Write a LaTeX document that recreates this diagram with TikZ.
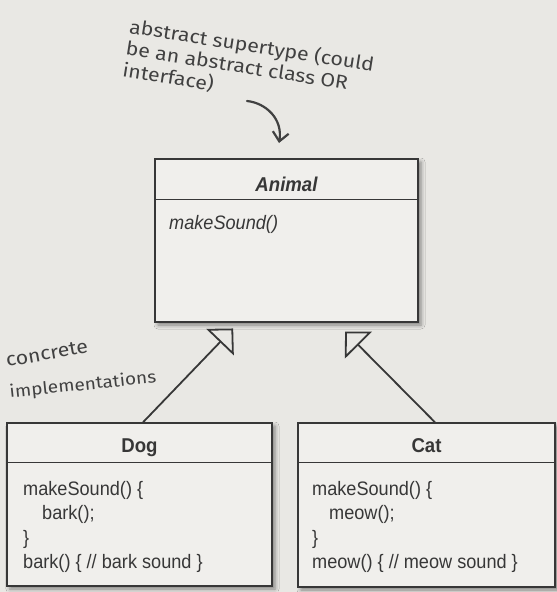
\documentclass[tikz,border=0pt]{standalone}
\usepackage{fontspec}
\setmainfont{Liberation Sans}
\newfontfamily\bodyfont[FakeStretch=0.93]{Liberation Sans}
\newfontfamily\handfont[FakeStretch=1.12]{Fira Sans}
\usetikzlibrary{arrows.meta,shadows.blur}
\definecolor{paper}{RGB}{233,232,228}
\definecolor{boxfill}{RGB}{240,239,236}
\definecolor{ink}{RGB}{55,55,55}
\definecolor{pencil}{RGB}{65,65,65}
\tikzset{
  classbox/.style={draw=ink, line width=1.4pt, fill=boxfill, inner sep=0pt,
    blur shadow={shadow xshift=3pt, shadow yshift=-3pt, shadow blur radius=4pt, shadow opacity=45}},
  divider/.style={draw=ink, line width=1.4pt},
  classtitle/.style={font=\bodyfont\bfseries\fontsize{20}{24}\selectfont, text=ink, anchor=base, inner sep=0pt},
  member/.style={font=\bodyfont\fontsize{19.5}{24}\selectfont, text=ink, anchor=base west, inner sep=0pt},
  gen/.style={draw=ink, line width=1.8pt, -{Triangle[open, length=19pt, width=38pt, line width=1.8pt]}},
  note/.style={font=\handfont\fontsize{19}{22}\selectfont, text=pencil, inner sep=0pt},
  smallnote/.style={font=\handfont\fontsize{17}{20}\selectfont, text=pencil, inner sep=0pt},
  pencilarrow/.style={draw=pencil, line width=2.2pt, line cap=round, -{Straight Barb[length=9pt, width=16pt, line width=2.2pt]}}
}
\begin{document}
\begin{tikzpicture}[x=1pt,y=-1pt]
\fill[paper] (0,0) rectangle (557,592);
\useasboundingbox (0,0) rectangle (557,592);

% class boxes
\node[classbox, minimum width=263pt, minimum height=163pt] (animal) at (286.5,240.5) {};
\node[classbox, minimum width=265pt, minimum height=163pt] (dog) at (139.5,504.5) {};
\node[classbox, minimum width=257pt, minimum height=164pt] (cat) at (426.5,505) {};

\draw[divider] ([yshift=-41pt]animal.north west) -- ([yshift=-41pt]animal.north east);
\draw[divider] ([yshift=-40pt]dog.north west) -- ([yshift=-40pt]dog.north east);
\draw[divider] ([yshift=-40pt]cat.north west) -- ([yshift=-40pt]cat.north east);

% titles
\node[classtitle] (animalt) at (286.5,191) {\itshape Animal};
\node[classtitle] (dogt) at (139.5,452) {Dog};
\node[classtitle] (catt) at (426.5,452) {Cat};

% members
\node[member] (am1) at (169,229) {\itshape makeSound()};

\node[member] (dm1) at (23,495) {makeSound() \{};
\node[member] (dm2) at (42,519.5) {bark();};
\node[member] (dm3) at (23,544) {\}};
\node[member] (dm4) at (23,568.5) {bark() \{ // bark sound \}};

\node[member] (cm1) at (312,495) {makeSound() \{};
\node[member] (cm2) at (329,519.5) {meow();};
\node[member] (cm3) at (312,544) {\}};
\node[member] (cm4) at (312,568.5) {meow() \{ // meow sound \}};

% generalization connectors
\draw[gen, shorten >=8pt] ([xshift=3.5pt]dog.north) -- ([xshift=-47.8pt]animal.south);
\draw[gen, shorten >=12.6pt] ([xshift=8.5pt]cat.north) -- ([xshift=49.7pt]animal.south);

% handwritten notes
\node[note, rotate=-9, align=left, anchor=north west] (n1) at (131,17)
  {abstract supertype (could\\be an abstract class OR\\interface)};

\node[note, rotate=10, anchor=base west] (c1) at (7,367) {concrete};
\node[smallnote, rotate=6, anchor=base west] (c2) at (10,398) {implementations};

\coordinate (cs) at (247,101);
\coordinate (ce) at (279,143);
\draw[pencilarrow] (cs) .. controls (266,103) and (283,119) .. (ce);
\end{tikzpicture}
\end{document}
